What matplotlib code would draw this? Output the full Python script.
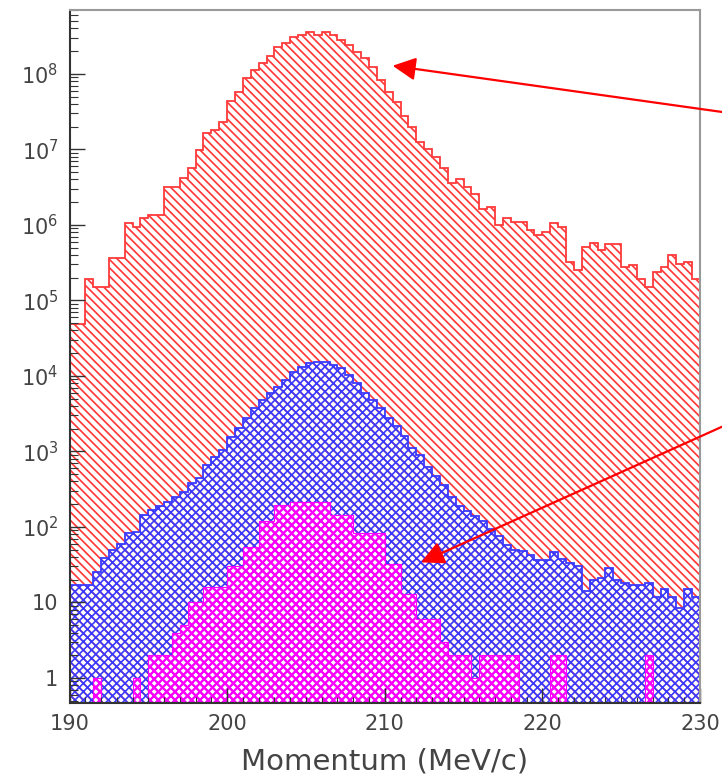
import numpy as np
import matplotlib
matplotlib.use("Agg")
import matplotlib.pyplot as plt
from matplotlib.ticker import FixedLocator, MultipleLocator, LogLocator, NullFormatter

plt.rcParams["font.family"] = ["DejaVu Sans"]
plt.rcParams["hatch.linewidth"] = 1.0

# momentum binning, 0.5 MeV/c per bin
p_lo, p_hi, nbins = 190, 230, 80

# all events (red)
all_events = [
    4.8e4, 4.8e4, 1.9e5, 1.5e5, 1.5e5, 3.6e5, 3.6e5, 1.07e6, 9.3e5, 1.23e6,
    1.35e6, 1.35e6, 3.2e6, 3.2e6, 4.2e6, 5.6e6, 9.8e6, 1.66e7, 1.8e7, 2.3e7,
    4.4e7, 5.8e7, 8.9e7, 1.12e8, 1.41e8, 1.7e8, 2.3e8, 2.6e8, 3.1e8, 3.3e8,
    3.6e8, 3.3e8, 3.6e8, 3.3e8, 2.8e8, 2.4e8, 1.95e8, 1.62e8, 1.23e8, 8.3e7,
    5.8e7, 4.2e7, 2.8e7, 2.0e7, 1.26e7, 1.0e7, 7.9e6, 5.6e6, 3.6e6, 4.1e6,
    3.2e6, 2.6e6, 1.6e6, 1.74e6, 1.0e6, 1.23e6, 1.1e6, 1.1e6, 8.5e5, 7.4e5,
    8.1e5, 1.07e6, 9.3e5, 3.2e5, 2.5e5, 5.1e5, 5.8e5, 4.7e5, 5.6e5, 5.6e5,
    2.75e5, 2.9e5, 1.9e5, 1.5e5, 2.4e5, 2.75e5, 4.0e5, 3.0e5, 3.2e5, 1.9e5,
]

# after first selection (blue)
selected = [
    17, 17, 17, 25, 39, 50, 60, 83, 85, 145,
    170, 190, 215, 250, 290, 380, 450, 660, 850, 1050,
    1550, 2050, 2750, 3800, 4800, 5900, 7100, 8900, 11200, 13200,
    14800, 15100, 15100, 14100, 12600, 10200, 8100, 6000, 4800, 3800,
    2800, 2150, 1600, 1120, 890, 630, 470, 355, 250, 190,
    165, 140, 120, 95, 76, 58, 50, 48, 43, 37,
    36, 46, 38, 33, 30, 14, 20, 21, 29, 20,
    18, 17, 17, 18, 12, 15, 12, 8.5, 15, 12,
]

# after all cuts (magenta)
final = [
    0, 0, 0, 1, 0, 0, 0, 0, 1, 0,
    2, 2, 2, 4, 5, 10, 10, 16, 16, 16,
    30, 30, 54, 54, 120, 120, 195, 195, 215, 215,
    215, 215, 215, 145, 145, 145, 83, 83, 83, 83,
    32, 32, 13, 13, 6, 6, 6, 3, 2, 2,
    2, 1, 2, 2, 2, 2, 2, 0, 0, 0,
    0, 2, 2, 0, 0, 0, 0, 0, 0, 0,
    0, 0, 0, 2, 0, 0, 0, 0, 0, 0,
]

edges = np.linspace(p_lo, p_hi, nbins + 1)
floor = 0.05


def hist(values, color, hatch, lw, hatch_lw):
    h = ax.stairs(np.maximum(values, floor), edges, baseline=floor, fill=True,
                  facecolor="none", edgecolor=color, hatch=hatch, linewidth=lw)
    if hasattr(h, "set_hatch_linewidth"):
        h.set_hatch_linewidth(hatch_lw)
    return h


fig = plt.figure(figsize=(7.22, 7.83), dpi=100)
ax = fig.add_axes([0.0963, 0.1022, 0.8732, 0.885])
ax.set_yscale("log")

hist(all_events, "#ff3a3a", "\\" * 4, 1.3, 1.25)
hist(selected, "#3a3aff", "x" * 4, 1.3, 1.2)
hist(final, "#ff00ff", "x" * 4, 0.8, 1.6)

ax.set_xlim(p_lo, p_hi)
ax.set_ylim(0.467, 7.0e8)

ax.xaxis.set_major_locator(MultipleLocator(10))
ax.xaxis.set_minor_locator(MultipleLocator(1))
decades = [10.0 ** k for k in range(9)]
ax.yaxis.set_major_locator(FixedLocator(decades))
ax.set_yticklabels(["1", "10"] + [r"$10^{%d}$" % k for k in range(2, 9)])
ax.yaxis.set_minor_locator(LogLocator(base=10, subs=np.arange(2, 10)))
ax.yaxis.set_minor_formatter(NullFormatter())

ax.tick_params(which="both", direction="in", colors="#333333",
               labelcolor="#444444", labelsize=15, top=False, right=False)
ax.tick_params(which="major", length=11, width=1, pad=8)
ax.tick_params(which="minor", length=6, width=0.8)
ax.tick_params(axis="x", which="minor", length=4)

for side in ["left", "bottom"]:
    ax.spines[side].set_color("#333333")
    ax.spines[side].set_linewidth(1.5)
for side in ["top", "right"]:
    ax.spines[side].set_color("#999999")
    ax.spines[side].set_linewidth(1.5)

ax.set_xlabel("Momentum (MeV/c)", fontsize=21, color="#444444", labelpad=10)

# arrows coming in from the right margin
arrow = dict(arrowstyle="-|>,head_length=0.7,head_width=0.35", color="red",
             lw=1.6, mutation_scale=20, shrinkA=0, shrinkB=0)
ax.annotate("", xy=(210.5, 1.28e8), xytext=(1.0, 0.857),
            textcoords="figure fraction", arrowprops=arrow, annotation_clip=False)
ax.annotate("", xy=(212.3, 34), xytext=(1.0, 0.455),
            textcoords="figure fraction", arrowprops=arrow, annotation_clip=False)

fig.savefig("out.png", dpi=100)
